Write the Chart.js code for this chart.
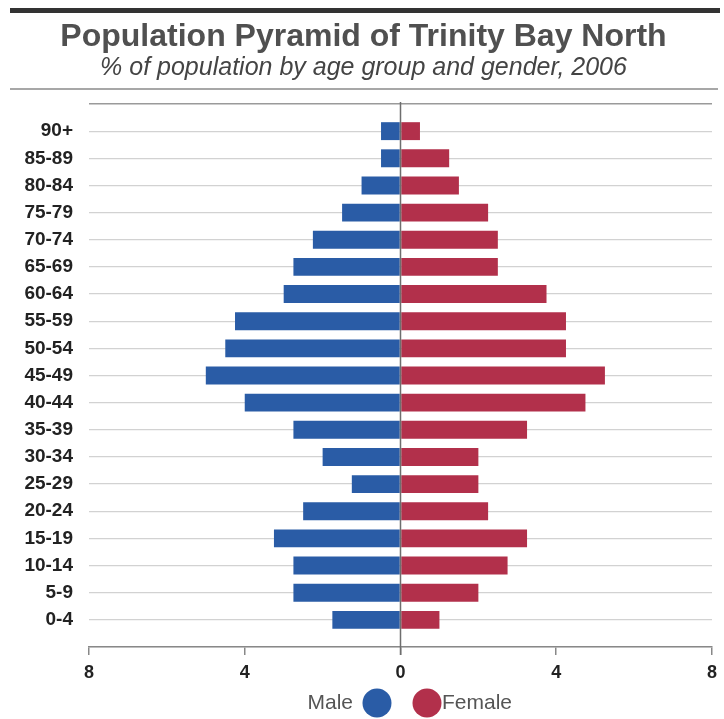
<!DOCTYPE html>
<html>
<head>
<meta charset="utf-8">
<title>Population Pyramid of Trinity Bay North</title>
<script src="https://cdn.jsdelivr.net/npm/chart.js@4/dist/chart.umd.min.js"></script>
<style>
  html, body { margin: 0; padding: 0; background: #ffffff; }
  #wrap { width: 724px; height: 719px; }
</style>
</head>
<body>
<div id="wrap"><canvas id="pyramid" width="724" height="719"></canvas></div>
<script>
// Age groups, oldest at the top
const ageGroups = ['90+', '85-89', '80-84', '75-79', '70-74', '65-69', '60-64', '55-59', '50-54',
  '45-49', '40-44', '35-39', '30-34', '25-29', '20-24', '15-19', '10-14', '5-9', '0-4'];

// Share of total population (%), 2006
const maleShare = [0.5, 0.5, 1.0, 1.5, 2.25, 2.75, 3.0, 4.25, 4.5,
  5.0, 4.0, 2.75, 2.0, 1.25, 2.5, 3.25, 2.75, 2.75, 1.75];
const femaleShare = [0.5, 1.25, 1.5, 2.25, 2.5, 2.5, 3.75, 4.25, 4.25,
  5.25, 4.75, 3.25, 2.0, 2.0, 2.25, 3.25, 2.75, 2.0, 1.0];

// Horizontal axis ticks (percent either side of zero)
const axisTicks = [-8, -4, 0, 4, 8];

const MALE_COLOR = '#2a5ca6';
const FEMALE_COLOR = '#b2304b';
const FONT = "'Liberation Sans', Arial, sans-serif";

// Page frame: heavy rule on top, thin rule under the subtitle
const framePlugin = {
  id: 'frame',
  beforeDraw(chart) {
    const { ctx, width } = chart;
    ctx.save();
    ctx.fillStyle = '#ffffff';
    ctx.fillRect(0, 0, width, chart.height);
    ctx.fillStyle = '#333333';
    ctx.fillRect(10, 8, width - 14, 5);
    ctx.strokeStyle = '#8a8a8a';
    ctx.lineWidth = 1.5;
    ctx.beginPath();
    ctx.moveTo(10, 89);
    ctx.lineTo(width - 6, 89);
    ctx.stroke();
    ctx.restore();
  }
};

// Zero line drawn over the bars
const zeroLinePlugin = {
  id: 'zeroLine',
  afterDatasetsDraw(chart) {
    const { ctx, chartArea } = chart;
    const x = Math.round(chart.scales.x.getPixelForValue(0)) + 0.5;
    ctx.save();
    ctx.strokeStyle = '#6e6e6e';
    ctx.lineWidth = 1.5;
    ctx.beginPath();
    ctx.moveTo(x, chartArea.top - 2);
    ctx.lineTo(x, chartArea.bottom + 8);
    ctx.stroke();
    ctx.restore();
  }
};

// Legend: "Male ●  ●Female"
const legendPlugin = {
  id: 'pyramidLegend',
  afterDraw(chart) {
    const { ctx } = chart;
    const cx = chart.width / 2;
    const cy = 703;
    const [male, female] = chart.data.datasets;
    ctx.save();
    ctx.font = `21px ${FONT}`;
    ctx.fillStyle = '#555555';
    ctx.textBaseline = 'middle';
    ctx.textAlign = 'right';
    ctx.fillText(male.label, cx - 9, cy);
    ctx.textAlign = 'left';
    ctx.fillText(female.label, cx + 80, cy);
    ctx.fillStyle = male.backgroundColor;
    ctx.beginPath();
    ctx.arc(cx + 15, cy, 14.5, 0, Math.PI * 2);
    ctx.fill();
    ctx.fillStyle = female.backgroundColor;
    ctx.beginPath();
    ctx.arc(cx + 65, cy, 14.5, 0, Math.PI * 2);
    ctx.fill();
    ctx.restore();
  }
};

const maleData = ageGroups.map((g, i) => ({ y: i, x: -maleShare[i] }));
const femaleData = ageGroups.map((g, i) => ({ y: i, x: femaleShare[i] }));

new Chart(document.getElementById('pyramid'), {
  type: 'bar',
  data: {
    datasets: [
      { label: 'Male', data: maleData, backgroundColor: MALE_COLOR, borderWidth: 0,
        barPercentage: 0.66, categoryPercentage: 1 },
      { label: 'Female', data: femaleData, backgroundColor: FEMALE_COLOR, borderWidth: 0,
        barPercentage: 0.66, categoryPercentage: 1 }
    ]
  },
  options: {
    indexAxis: 'y',
    responsive: false,
    animation: false,
    layout: { padding: { left: 8, right: 5, top: 0, bottom: 36 } },
    plugins: {
      legend: { display: false },
      tooltip: { enabled: false },
      title: {
        display: true,
        text: 'Population Pyramid of Trinity Bay North',
        color: '#505050',
        font: { family: FONT, size: 32, weight: 'bold', lineHeight: 1.0 },
        padding: { top: 21, bottom: 0 }
      },
      subtitle: {
        display: true,
        text: '% of population by age group and gender, 2006',
        color: '#444444',
        font: { family: FONT, size: 25, style: 'italic', lineHeight: 1.0 },
        padding: { top: 3, bottom: 23 }
      }
    },
    scales: {
      x: {
        type: 'linear',
        stacked: true,
        min: axisTicks[0],
        max: axisTicks[axisTicks.length - 1],
        afterBuildTicks(scale) { scale.ticks = axisTicks.map(v => ({ value: v })); },
        afterFit(scale) { scale.height = 36; },
        ticks: {
          callback: v => String(Math.abs(v)),
          color: '#222222',
          font: { family: FONT, size: 18, weight: 'bold' },
          padding: 7,
          maxRotation: 0
        },
        grid: {
          color: 'rgba(0,0,0,0)',
          tickColor: '#888888',
          tickLength: 8,
          lineWidth: 1.5
        },
        border: { display: true, color: '#888888', width: 1.5 }
      },
      y: {
        type: 'linear',
        stacked: true,
        reverse: true,
        offset: false,
        min: -1,
        max: ageGroups.length,
        afterBuildTicks(scale) {
          const t = [];
          for (let i = -1; i <= ageGroups.length; i++) t.push({ value: i });
          scale.ticks = t;
        },
        afterFit(scale) { scale.width = 81; },
        ticks: {
          autoSkip: false,
          callback: v => (ageGroups[v] !== undefined ? ageGroups[v] : ''),
          color: '#222222',
          font: { family: FONT, size: 19, weight: 'bold' },
          padding: 16
        },
        grid: {
          offset: false,
          drawTicks: false,
          color: ctx => (ctx.tick && ctx.tick.value === -1 ? '#9a9a9a' : '#d2d2d2'),
          lineWidth: ctx => (ctx.tick && ctx.tick.value === -1 ? 1.5 : 1.2)
        },
        border: { display: false }
      }
    }
  },
  plugins: [framePlugin, zeroLinePlugin, legendPlugin]
});
</script>
</body>
</html>
